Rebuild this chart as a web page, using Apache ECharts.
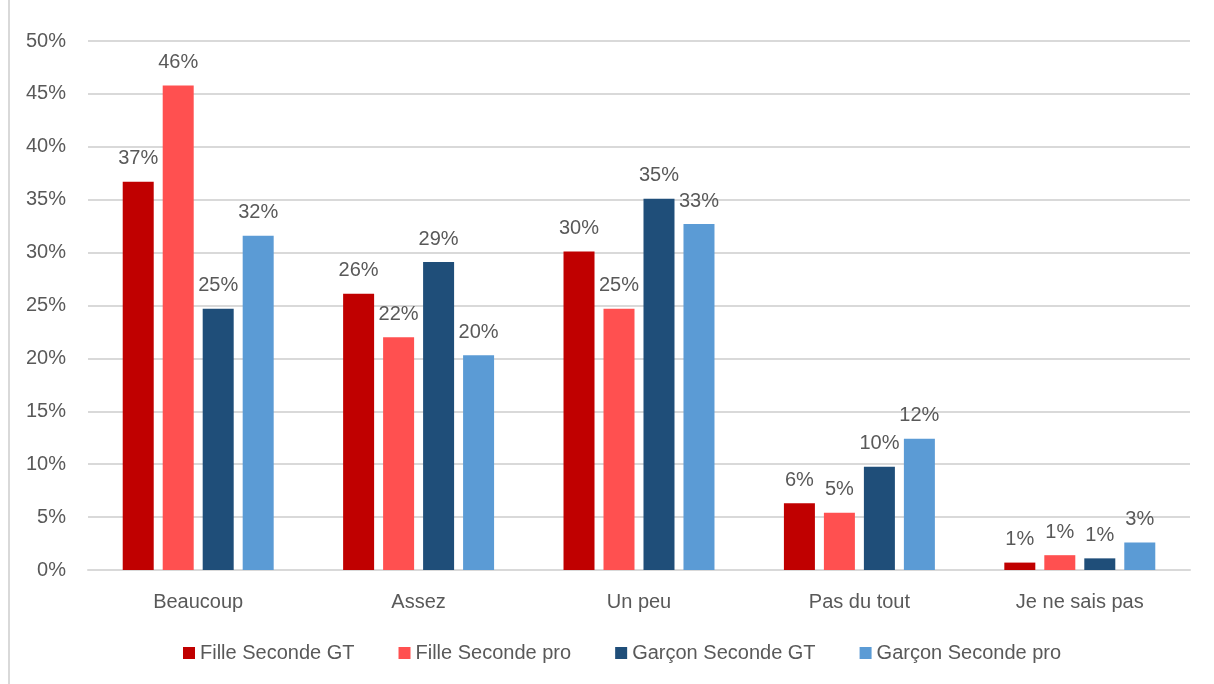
<!DOCTYPE html>
<html>
<head>
<meta charset="utf-8">
<script src="https://cdn.jsdelivr.net/npm/echarts@6/dist/echarts.min.js"></script>
<style>
html,body{margin:0;padding:0;background:#fff;}
#chart{width:1214px;height:684px;}
</style>
</head>
<body>
<div id="chart"></div>
<script>
const categories = ['Beaucoup', 'Assez', 'Un peu', 'Pas du tout', 'Je ne sais pas'];
const seriesNames = ['Fille Seconde GT', 'Fille Seconde pro', 'Garçon Seconde GT', 'Garçon Seconde pro'];
const filleGT = [36.7, 26.1, 30.1, 6.3, 0.7];
const fillePro = [45.8, 22.0, 24.7, 5.4, 1.4];
const garconGT = [24.7, 29.1, 35.1, 9.75, 1.1];
const garconPro = [31.6, 20.3, 32.7, 12.4, 2.6];
const colors = ['#C00000', '#FF5050', '#1F4E79', '#5B9BD5'];

const FONT = 'Liberation Sans';
const TXT = '#595959';
const allData = [filleGT, fillePro, garconGT, garconPro];

const chart = echarts.init(document.getElementById('chart'));
chart.setOption({
  animation: false,
  backgroundColor: '#fff',
  textStyle: { fontFamily: FONT },
  graphic: [{
    type: 'line',
    shape: { x1: 9, y1: 0, x2: 9, y2: 684 },
    style: { stroke: '#d9d9d9', lineWidth: 2 }
  }],
  grid: { left: 88, right: 24, top: 41, bottom: 114 },
  legend: {
    data: seriesNames,
    bottom: 16,
    left: 178,
    icon: 'rect',
    itemWidth: 12,
    itemHeight: 12,
    itemGap: 44,
    textStyle: { color: TXT, fontSize: 20, fontFamily: FONT }
  },
  xAxis: {
    type: 'category',
    data: categories,
    axisLine: { lineStyle: { color: '#d9d9d9', width: 2 } },
    axisTick: { show: false },
    axisLabel: { color: TXT, fontSize: 20, fontFamily: FONT, margin: 22 }
  },
  yAxis: {
    type: 'value',
    min: 0,
    max: 50,
    interval: 5,
    axisLine: { show: false },
    axisTick: { show: false },
    axisLabel: { color: TXT, fontSize: 20, fontFamily: FONT, margin: 22, formatter: '{value}%' },
    splitLine: { lineStyle: { color: '#d9d9d9', width: 2 } }
  },
  series: allData.map((d, i) => ({
    name: seriesNames[i],
    type: 'bar',
    data: d,
    barWidth: 31,
    barGap: '29%',
    itemStyle: { color: colors[i] },
    label: {
      show: true,
      position: 'top',
      distance: 13,
      color: TXT,
      fontSize: 20,
      fontFamily: FONT,
      formatter: p => Math.round(p.value) + '%'
    }
  }))
});
</script>
</body>
</html>
